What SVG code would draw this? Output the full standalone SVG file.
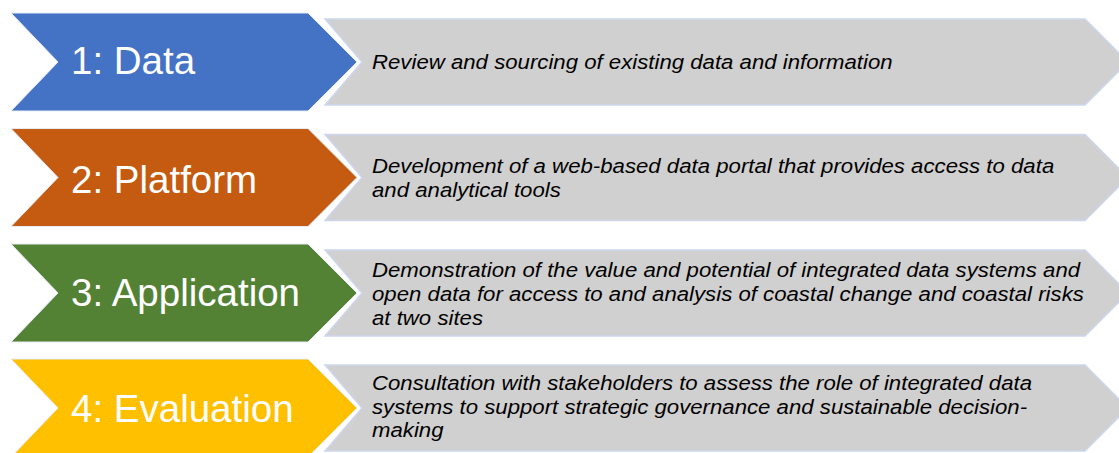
<svg xmlns="http://www.w3.org/2000/svg" width="1119" height="453" viewBox="0 0 1119 453">
<style>
.lbl{font-family:"Liberation Sans",Arial,sans-serif;font-size:38.5px;fill:#ffffff}
.desc{font-family:"Liberation Sans",Arial,sans-serif;font-size:20.5px;font-style:italic;fill:#000000}
.box{fill:#d0d0d0;stroke:#cdd6ee;stroke-width:1.5}
.chev{stroke:#e6ecf6;stroke-width:1}
</style>
<defs>
<path id="chevShape" d="M11,0 L308,0 L357,49 L308,98 L11,98 L58,49 Z"/>
<path id="boxShape" d="M325,6 L1085,6 L1128,49 L1085,92 L325,92 L362,49 Z"/>
</defs>
<rect x="0" y="0" width="1119" height="453" fill="#ffffff"/>
<g id="connectors"></g>
<g id="step1" transform="translate(0,13)">
<use href="#boxShape" class="box"/>
<use href="#chevShape" class="chev" fill="#4472c4"/>
<text class="lbl" x="71" y="61">1: Data</text>
<g transform="translate(372,0) scale(1.083,1)"><text class="desc" x="0" y="56">Review and sourcing of existing data and information</text></g>
</g>
<g id="step2" transform="translate(0,128.5)">
<use href="#boxShape" class="box"/>
<use href="#chevShape" class="chev" fill="#c55a11"/>
<text class="lbl" x="71" y="64">2: Platform</text>
<g transform="translate(372,0) scale(1.083,1)"><text class="desc" x="0" y="44.5">Development of a web-based data portal that provides access to data</text><text class="desc" x="0" y="68.5">and analytical tools</text></g>
</g>
<g id="step3" transform="translate(0,244)">
<use href="#boxShape" class="box"/>
<use href="#chevShape" class="chev" fill="#548235"/>
<text class="lbl" x="71" y="62">3: Application</text>
<g transform="translate(372,0) scale(1.083,1)"><text class="desc" x="0" y="33">Demonstration of the value and potential of integrated data systems and</text><text class="desc" x="0" y="57">open data for access to and analysis of coastal change and coastal risks</text><text class="desc" x="0" y="81">at two sites</text></g>
</g>
<g id="step4" transform="translate(0,359)">
<use href="#boxShape" class="box"/>
<use href="#chevShape" class="chev" fill="#ffc000"/>
<text class="lbl" x="71" y="63">4: Evaluation</text>
<g transform="translate(372,0) scale(1.083,1)"><text class="desc" x="0" y="31">Consultation with stakeholders to assess the role of integrated data</text><text class="desc" x="0" y="55">systems to support strategic governance and sustainable decision-</text><text class="desc" x="0" y="78.5">making</text></g>
</g>
</svg>
